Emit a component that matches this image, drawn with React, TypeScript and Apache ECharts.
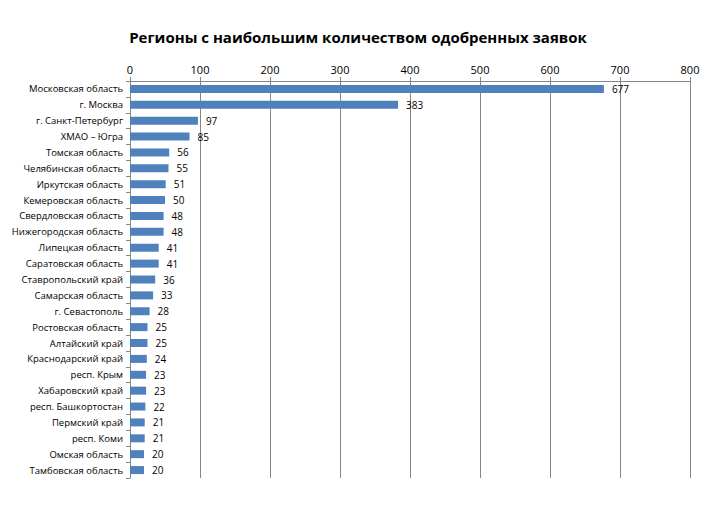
import React, { useEffect, useRef } from "react";
import * as echarts from "echarts";

const title = "Регионы с наибольшим количеством одобренных заявок";

const regions = [
  "Московская область",
  "г. Москва",
  "г. Санкт-Петербург",
  "ХМАО – Югра",
  "Томская область",
  "Челябинская область",
  "Иркутская область",
  "Кемеровская область",
  "Свердловская область",
  "Нижегородская область",
  "Липецкая область",
  "Саратовская область",
  "Ставропольский край",
  "Самарская область",
  "г. Севастополь",
  "Ростовская область",
  "Алтайский край",
  "Краснодарский край",
  "респ. Крым",
  "Хабаровский край",
  "респ. Башкортостан",
  "Пермский край",
  "респ. Коми",
  "Омская область",
  "Тамбовская область",
];

const approved = [677, 383, 97, 85, 56, 55, 51, 50, 48, 48, 41, 41, 36, 33, 28, 25, 25, 24, 23, 23, 22, 21, 21, 20, 20];

const FONT = "'Open Sans', 'Liberation Sans', sans-serif";

export default function App() {
  const ref = useRef<HTMLDivElement>(null);
  useEffect(() => {
    if (!ref.current) return;
    const chart = echarts.init(ref.current, undefined, { renderer: "svg" });
    chart.setOption({
      animation: false,
      backgroundColor: "#ffffff",
      title: {
        text: title,
        left: "center",
        top: 16,
        textStyle: { fontFamily: FONT, fontSize: 15, fontWeight: "bold", color: "#000" },
      },
      grid: { left: 122, right: 18, top: 73, bottom: 32, containLabel: false },
      xAxis: {
        type: "value",
        position: "top",
        min: 0,
        max: 800,
        interval: 100,
        axisLine: { show: true, lineStyle: { color: "#868686", width: 1 } },
        axisTick: { show: true, length: 4, lineStyle: { color: "#868686" } },
        axisLabel: { fontFamily: FONT, fontSize: 11, color: "#000", margin: 6 },
        splitLine: { show: true, lineStyle: { color: "#868686", width: 1 } },
      },
      yAxis: {
        type: "category",
        data: regions,
        inverse: true,
        axisLine: { show: true, lineStyle: { color: "#868686", width: 1 } },
        axisTick: { show: true, length: 4, lineStyle: { color: "#868686" } },
        axisLabel: { fontFamily: FONT, fontSize: 9.5, color: "#000", margin: 7 },
      },
      series: [
        {
          type: "bar",
          data: approved,
          barWidth: 8,
          itemStyle: { color: "#4F81BD" },
          label: {
            show: true,
            position: "right",
            distance: 8,
            fontFamily: FONT,
            fontSize: 10,
            color: "#000",
          },
        },
      ],
    });
    return () => chart.dispose();
  }, []);
  return <div ref={ref} style={{ width: 700, height: 502 }} />;
}
